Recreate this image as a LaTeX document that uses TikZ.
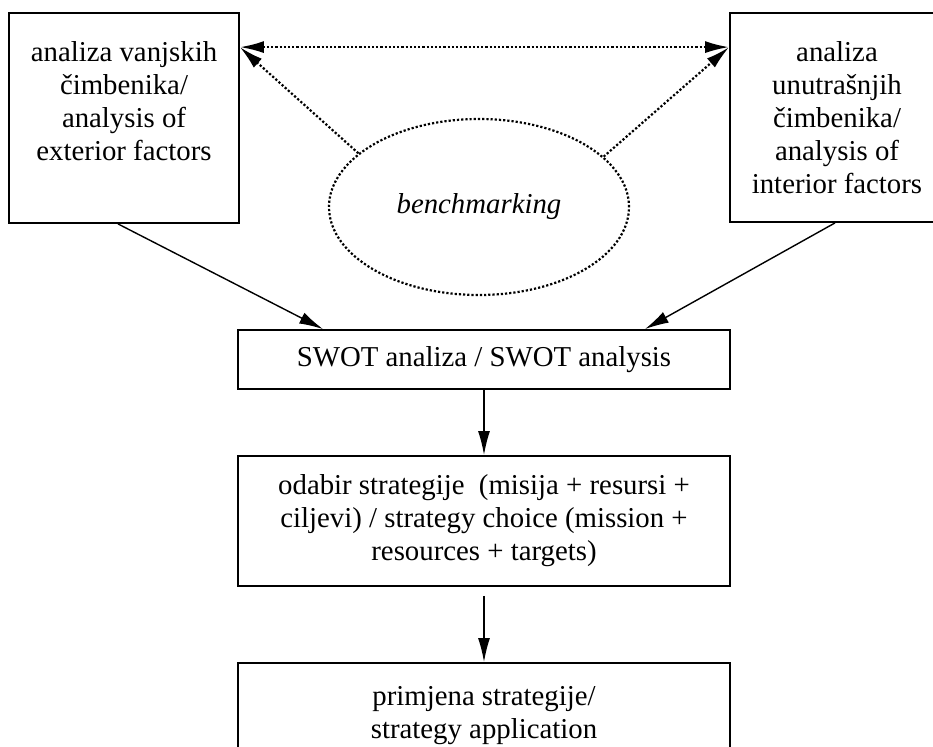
\documentclass[tikz,border=0pt]{standalone}
\usepackage{fontspec}
\setmainfont{Liberation Serif}
\usetikzlibrary{arrows.meta,positioning,shapes.geometric}

\begin{document}
\begin{tikzpicture}[x=0.5pt,y=-0.5pt,>={Latex[length=12pt,width=6pt]},
	every node/.style={font=\fontsize{14.4}{16.5}\selectfont},
	box/.style={draw,line width=0.9pt,inner sep=0pt,align=center},
	lbl/.style={inner sep=0pt,align=center},
	dotline/.style={->,line width=1.1pt,densely dotted}]
	\useasboundingbox (0,0) rectangle (933,746);
	% analysis boxes
	\node[box,minimum width=115pt,minimum height=105pt] (ext) at (124,118) {};
	\node[lbl,below=14.5pt of ext.north] (extlbl) {analiza vanjskih\\čimbenika/\\analysis of\\exterior factors};
	\node[box,minimum width=107pt,minimum height=104.5pt] (int) at (837,117.5) {};
	\node[lbl,below=14.5pt of int.north] (intlbl) {analiza\\unutrašnjih\\čimbenika/\\analysis of\\interior factors};
	\node[draw,ellipse,line width=1.1pt,densely dotted,minimum width=150pt,minimum height=88pt,inner sep=0pt] (bench) at (479,207) {\itshape benchmarking};
	% strategy chain
	\node[box,minimum width=246pt,minimum height=29.5pt] (swot) at (484,359.5) {SWOT analiza / SWOT analysis};
	\node[box,minimum width=246pt,minimum height=65pt] (choice) at (484,521) {odabir strategije\ \ (misija + resursi +\\ciljevi) / strategy choice (mission +\\resources + targets)};
	\node[box,minimum width=246pt,minimum height=53pt] (appl) at (484,716) {primjena strategije/\\strategy application};
	% benchmarking arrows
	\coordinate (extin) at ([yshift=-17.5pt]ext.north east);
	\coordinate (intin) at ([yshift=-17.5pt]int.north west);
	\draw[dotline,<->] (extin) -- (intin);
	\draw[dotline] (bench.156) -- (extin);
	\draw[dotline] (bench.22) -- (intin);
	% flow
	\draw[->,line width=0.7pt] ([xshift=-3pt]ext.south) -- ([xshift=43pt]swot.north west);
	\draw[->,line width=0.7pt] ([xshift=-1pt]int.south) -- ([xshift=-43pt]swot.north east);
	\draw[->,line width=0.7pt] (swot) -- (choice);
	\draw[->,line width=0.7pt,shorten <=4.5pt] (choice) -- (appl);
\end{tikzpicture}
\end{document}
